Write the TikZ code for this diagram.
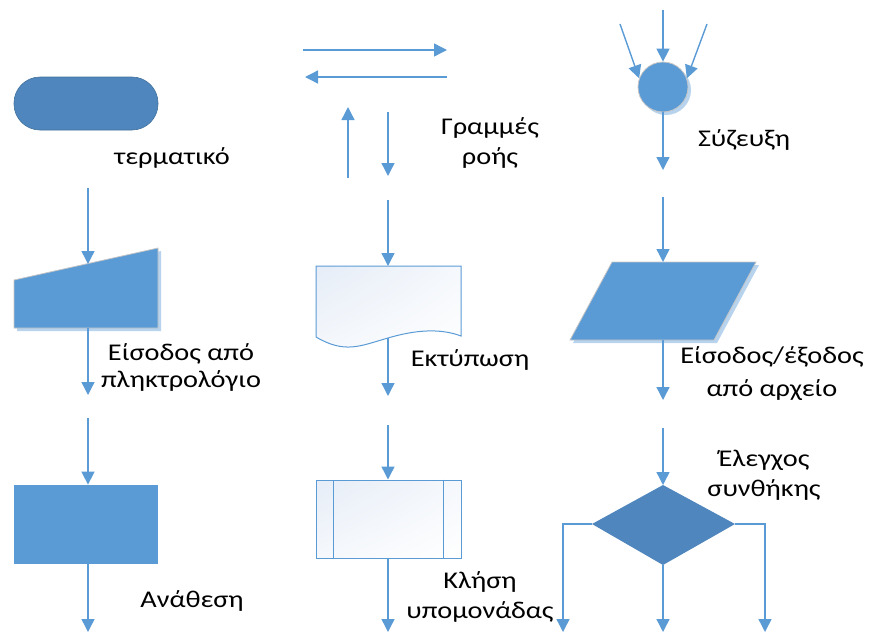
\documentclass[tikz,border=0pt]{standalone}
\usepackage{fontspec}
\setmainfont{Carlito}
\usetikzlibrary{arrows.meta, positioning, calc, shadings}
\definecolor{flowblue}{HTML}{5B9BD5}
\definecolor{darkblue}{HTML}{4F86BD}
\definecolor{edgeblue}{HTML}{41719C}
\definecolor{paleblue}{HTML}{E6EDF7}
\tikzset{%
	flow/.style={draw=flowblue, line width=1.4pt, -{Triangle[length=13pt, width=13pt]}},
	line/.style={draw=flowblue, line width=1.4pt},
	solid/.style={fill=flowblue, draw=gray!45, line width=0.8pt},
	dark/.style={fill=darkblue, draw=edgeblue, line width=0.6pt},
	paper/.style={upper left=paleblue, lower right=white, upper right=white!60!paleblue,
		lower left=white!60!paleblue, draw=flowblue, line width=1pt},
	shade/.style={fill=flowblue!55, draw=none, opacity=0.8},
	label/.style={font=\fontsize{24}{30}\selectfont, inner sep=0pt, xscale=1.18, align=center}
}
\begin{document}
\begin{tikzpicture}[x=1pt, y=-1pt]
	\useasboundingbox (0,0) rectangle (869,632);

	% left column
	\draw[dark, rounded corners=26pt] (14,77) rectangle (158,130);
	\node[label] (t-term) at (172,158) {τερματικό};

	\coordinate (in-a) at (88,188);
	\coordinate (in-top) at (88,264);
	\fill[shade] (17,283) -- (161,251) -- (161,331) -- (17,331) -- cycle;
	\draw[solid] (14,280) -- (158,248) -- (158,328) -- (14,328) -- cycle;
	\coordinate (in-bot) at (88,328);
	\coordinate (in-b) at (88,395);
	\draw[flow] (in-a) -- (in-top);
	\draw[flow] (in-bot) -- (in-b);
	\node[label, font=\fontsize{24}{27}\selectfont] (t-input) at (181,367) {Είσοδος από\\πληκτρολόγιο};

	\coordinate (as-a) at (88,418);
	\node[solid, draw=none, minimum width=144pt, minimum height=79pt, inner sep=0pt] (assign) at (86,524.5) {};
	\coordinate (as-b) at (88,632);
	\draw[flow] (as-a) -- (assign.north -| as-a);
	\draw[flow] (assign.south -| as-a) -- (as-b);
	\node[label] (t-assign) at (192,601) {Ανάθεση};

	% middle column
	\coordinate (r-a) at (303,50);
	\coordinate (r-b) at (447,50);
	\coordinate (l-a) at (447,77);
	\coordinate (l-b) at (305,77);
	\coordinate (u-a) at (348,178);
	\coordinate (u-b) at (348,107);
	\coordinate (d-a) at (388,112);
	\coordinate (d-b) at (388,176);
	\draw[flow] (r-a) -- (r-b);
	\draw[flow] (l-a) -- (l-b);
	\draw[flow] (u-a) -- (u-b);
	\draw[flow] (d-a) -- (d-b);
	\node[label] (t-lines) at (490,143) {Γραμμές\\ροής};

	\coordinate (pr-a) at (388,200);
	\coordinate (pr-top) at (388,266);
	\draw[paper] (316,266) -- (461,266) -- (461,336)
		.. controls (440,328) and (415,330) .. (388,338)
		.. controls (360,346) and (345,354) .. (316,337) -- cycle;
	\coordinate (pr-bot) at (388,338);
	\coordinate (pr-b) at (388,396);
	\draw[flow] (pr-a) -- (pr-top);
	\draw[flow] (pr-bot) -- (pr-b);
	\node[label] (t-print) at (470,360) {Εκτύπωση};

	\coordinate (sub-a) at (388,425);
	\node[paper, minimum width=145pt, minimum height=78pt, inner sep=0pt] (sub) at (388.5,519) {};
	\draw[flowblue, line width=1pt] ($(sub.north west)+(18,0)$) -- ($(sub.south west)+(18,0)$);
	\draw[flowblue, line width=1pt] ($(sub.north east)+(-18,0)$) -- ($(sub.south east)+(-18,0)$);
	\coordinate (sub-b) at (388,632);
	\draw[flow] (sub-a) -- (sub.north -| sub-a);
	\draw[flow] (sub.south -| sub-a) -- (sub-b);
	\node[label] (t-call) at (480,597) {Κλήση\\υπομονάδας};

	% right column
	\coordinate (j-v) at (663,10);
	\coordinate (j-l) at (620,24);
	\coordinate (j-r) at (707,24);
	\fill[shade] (666,90) circle (25pt);
	\node[solid, circle, minimum size=50pt, inner sep=0pt] (join) at (663,87) {};
	\coordinate (j-b) at (663,170);
	\draw[flow] (j-v) -- (join.north);
	\draw[flow] (j-l) -- (join.160);
	\draw[flow] (j-r) -- (join.20);
	\draw[flow] (join.south) -- (j-b);
	\node[label] (t-join) at (744,140) {Σύζευξη};

	\coordinate (f-a) at (663,197);
	\coordinate (f-top) at (663,262);
	\fill[shade] (615,265) -- (759,265) -- (717,343) -- (573,343) -- cycle;
	\draw[solid] (612,262) -- (756,262) -- (714,340) -- (570,340) -- cycle;
	\coordinate (f-bot) at (663,340);
	\coordinate (f-b) at (663,400);
	\draw[flow] (f-a) -- (f-top);
	\draw[flow] (f-bot) -- (f-b);
	\node[label, font=\fontsize{24}{33}\selectfont] (t-file) at (772,374) {Είσοδος/έξοδος\\από αρχείο};

	\coordinate (c-a) at (663,428);
	\draw[dark, draw=none] (663,485) coordinate (c-n) -- (735,524) coordinate (c-e)
		-- (663,565) coordinate (c-s) -- (592,524) coordinate (c-w) -- cycle;
	\coordinate (c-lb) at (563,632);
	\coordinate (c-mb) at (663,632);
	\coordinate (c-rb) at (765,632);
	\draw[flow] (c-a) -- (c-n);
	\draw[flow] (c-w) -| (c-lb);
	\draw[flow] (c-s) -- (c-mb);
	\draw[flow] (c-e) -| (c-rb);
	\node[label] (t-cond) at (764,475) {Έλεγχος\\συνθήκης};
\end{tikzpicture}
\end{document}
